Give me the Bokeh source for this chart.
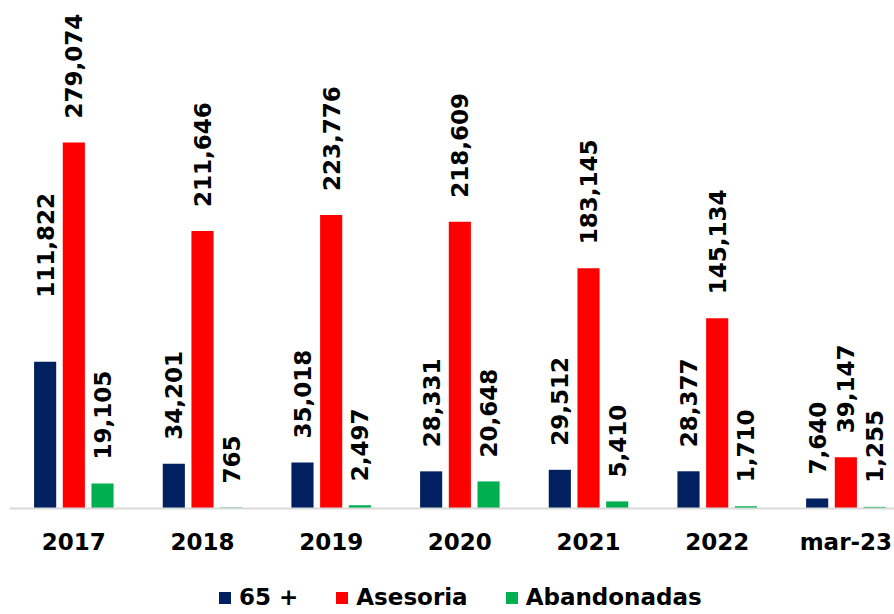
import numpy as np
from bokeh.plotting import figure
from bokeh.models import ColumnDataSource, Range1d, FixedTicker, Legend, LegendItem
from bokeh.transform import dodge
from bokeh.embed import file_html
from bokeh.resources import INLINE
from bokeh.core.properties import value

# ---- data ----
categories = ["2017", "2018", "2019", "2020", "2021", "2022", "mar-23"]
mayores_65 = [111822, 34201, 35018, 28331, 29512, 28377, 7640]
asesoria = [279074, 211646, 223776, 218609, 183145, 145134, 39147]
abandonadas = [19105, 765, 2497, 20648, 5410, 1710, 1255]
series_names = ["65 +", "Asesoria", "Abandonadas"]

# ---- styling ----
FONT = "DejaVu Sans"
COLORS = ["#002060", "#FF0000", "#00B050"]
OFFSETS = [-0.223, 0.0, 0.223]
BAR_W = 0.172
FS = "23px"
PX_PER_UNIT = 366 / 279074  # vertical scale (px per value)

idx = list(range(len(categories)))
series = [mayores_65, asesoria, abandonadas]
data = {"idx": idx}
for k, vals in enumerate(series):
    data[f"v{k}"] = vals
    data[f"t{k}"] = [f"{v:,}" for v in vals]
    data[f"o{k}"] = [-24] * len(vals)
data["o0"] = [-64] + [-24] * (len(categories) - 1)
src = ColumnDataSource(data)

p = figure(width=894, height=614, output_backend="svg", toolbar_location=None,
           x_range=Range1d(-0.5, -0.5 + 885 / 128.67),
           y_range=Range1d(-106 / PX_PER_UNIT, 508 / PX_PER_UNIT),
           min_border_left=9, min_border_right=0, min_border_top=0, min_border_bottom=0)

renderers = []
for k in range(3):
    r = p.vbar(x=dodge("idx", OFFSETS[k], range=p.x_range), top=f"v{k}", width=BAR_W,
               source=src, fill_color=COLORS[k], line_color=None)
    renderers.append(r)
    p.text(x=dodge("idx", OFFSETS[k], range=p.x_range), y=f"v{k}", text=f"t{k}",
           y_offset=f"o{k}", source=src, angle=np.pi / 2, text_align="left",
           text_baseline="middle", text_font=value(FONT), text_font_style="bold",
           text_font_size=FS, text_color="black")

p.xgrid.visible = False
p.ygrid.visible = False
p.outline_line_color = None
p.yaxis.visible = False
p.xaxis.fixed_location = 0
p.xaxis.ticker = FixedTicker(ticks=idx)
p.xaxis.major_label_overrides = {i: c for i, c in zip(idx, categories)}
p.xaxis.axis_line_color = "#D9D9D9"
p.xaxis.axis_line_width = 2
p.xaxis.major_tick_line_color = None
p.xaxis.minor_tick_line_color = None
p.xaxis.major_tick_out = 0
p.xaxis.major_label_standoff = 20
p.xaxis.major_label_text_font = FONT
p.xaxis.major_label_text_font_style = "bold"
p.xaxis.major_label_text_font_size = FS
p.xaxis.major_label_text_color = "black"

legend = Legend(items=[LegendItem(label=n, renderers=[r]) for n, r in zip(series_names, renderers)],
                orientation="horizontal", location=(208, 4),
                label_text_font=FONT, label_text_font_style="bold", label_text_font_size=FS,
                label_text_color="black", glyph_width=15, glyph_height=15,
                label_standoff=7, spacing=36, padding=0, margin=0,
                border_line_color=None, background_fill_alpha=0)
p.add_layout(legend)

open("out.html", "w").write(file_html(p, INLINE))
